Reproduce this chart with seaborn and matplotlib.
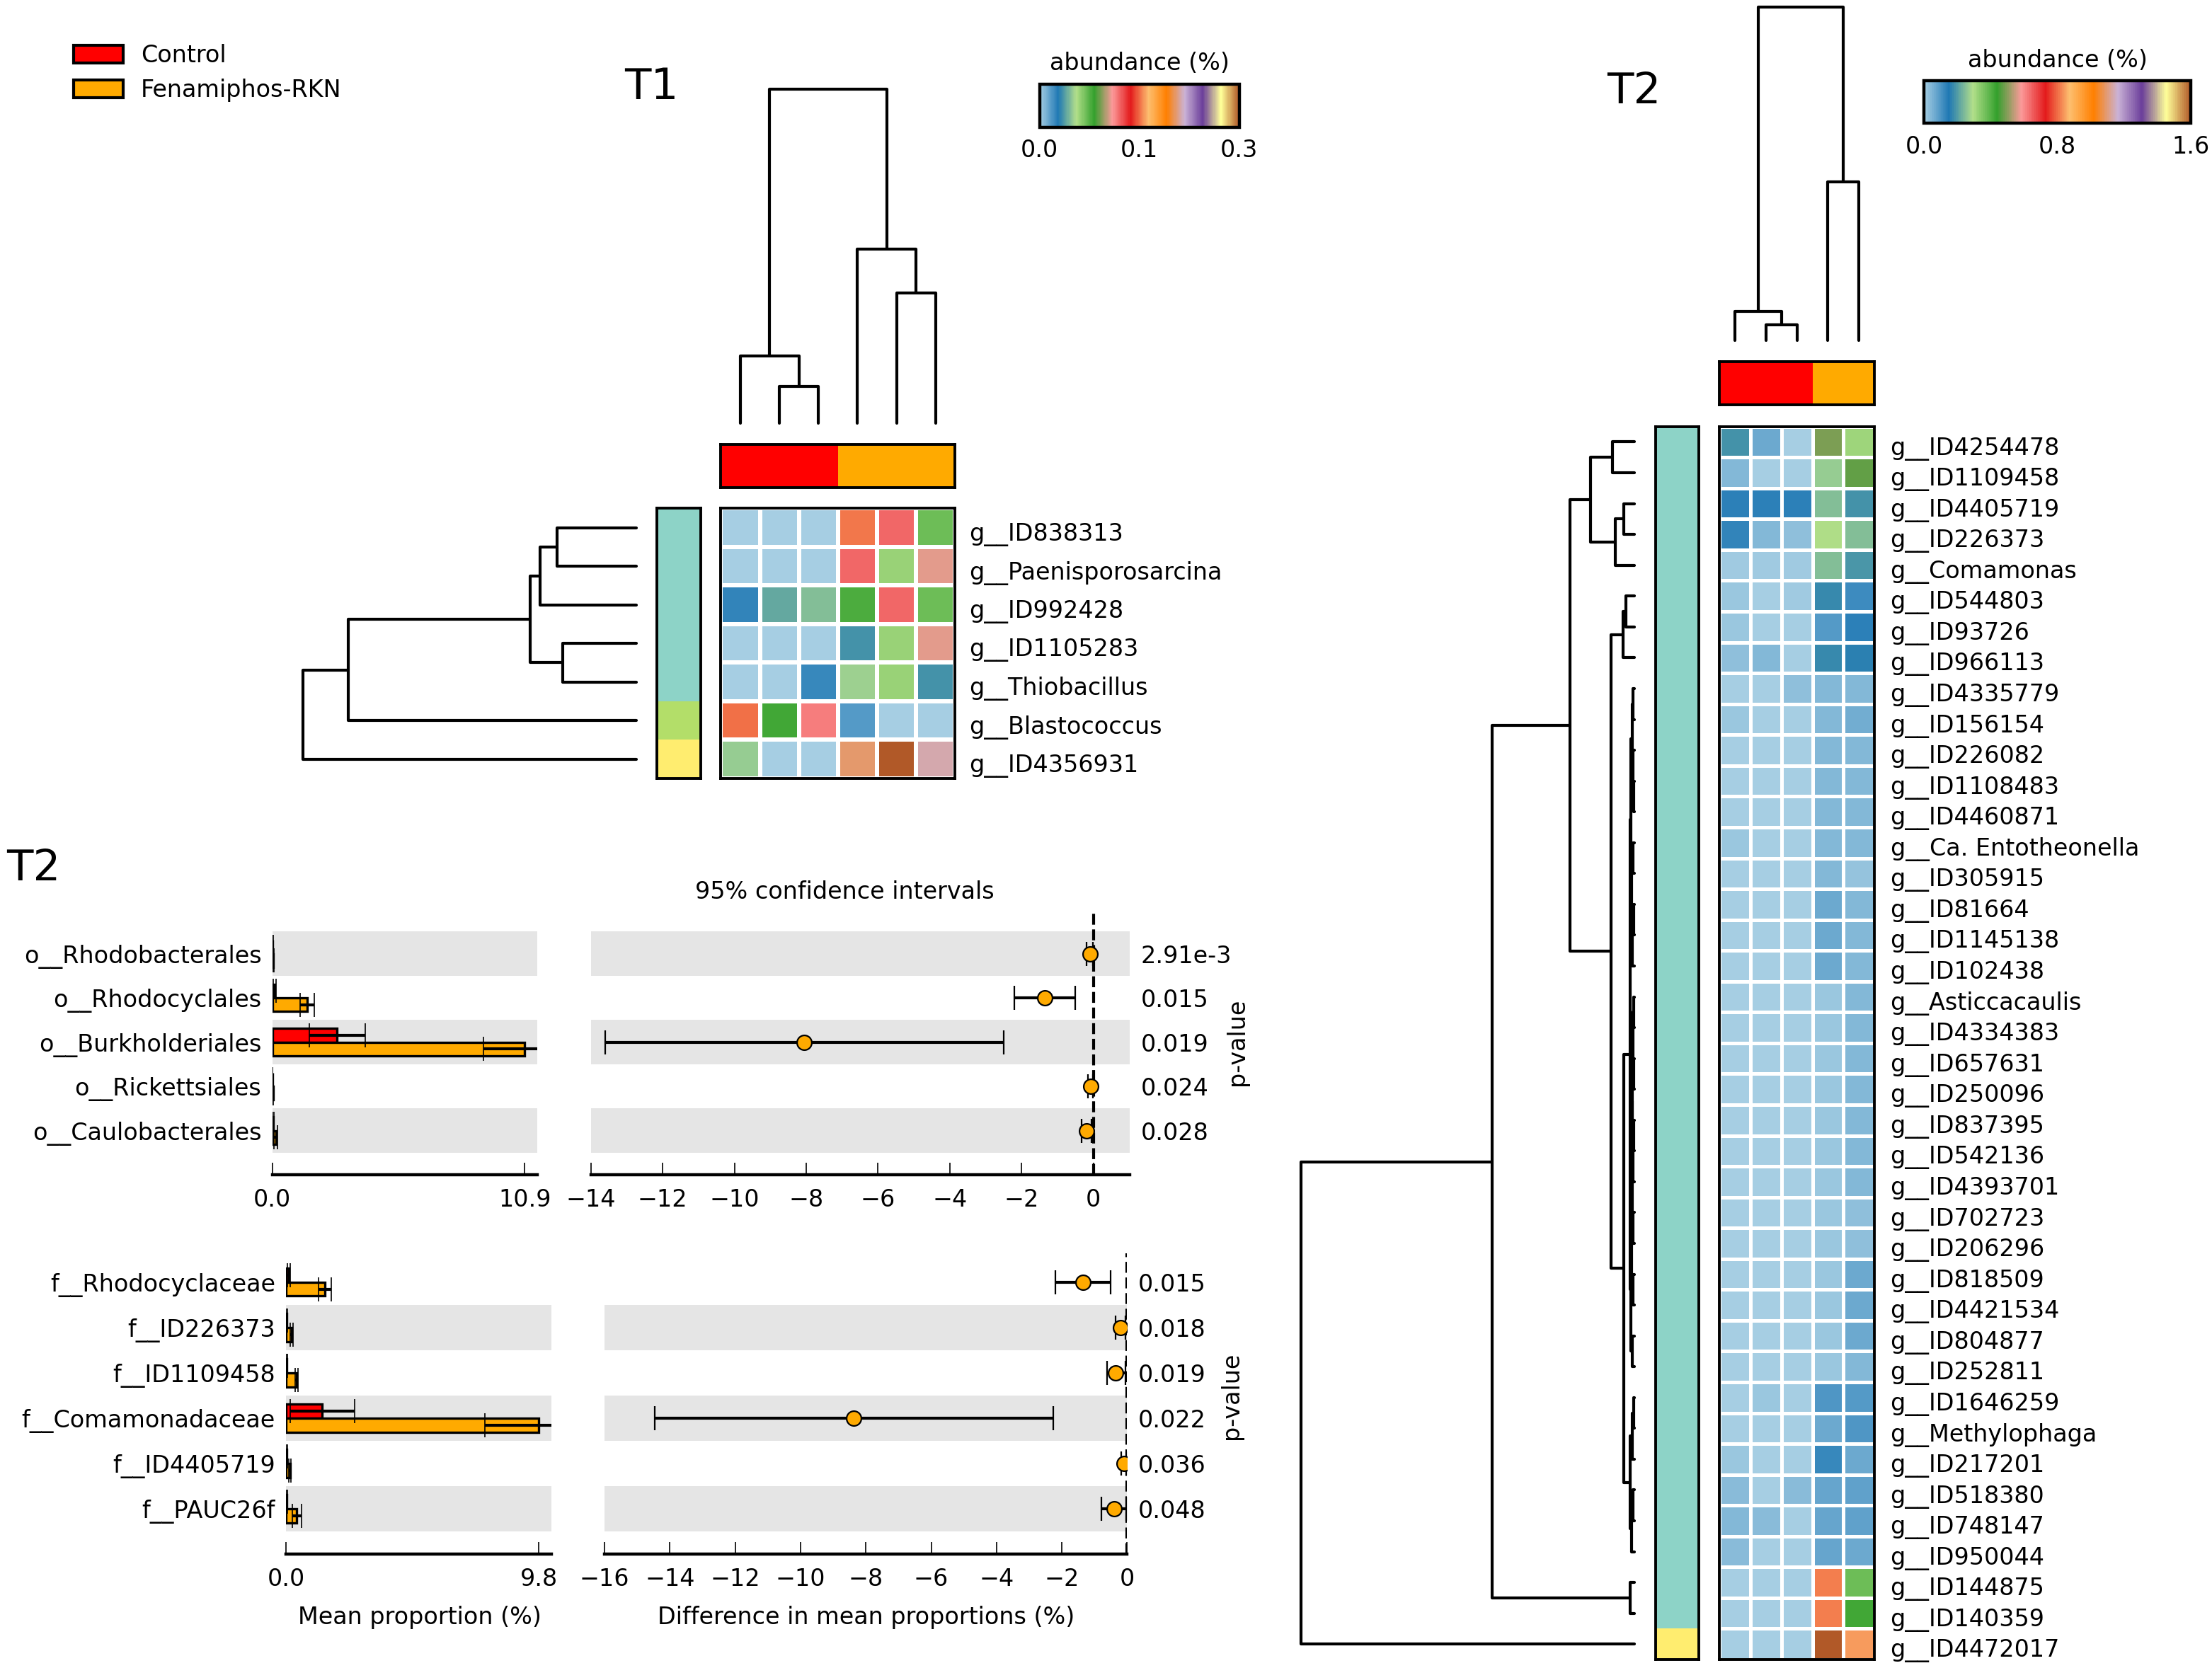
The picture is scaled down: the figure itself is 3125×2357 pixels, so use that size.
import numpy as np
import matplotlib
matplotlib.use("Agg")
import matplotlib.pyplot as plt
import matplotlib.transforms as mtransforms
import seaborn as sns
from matplotlib.colors import LinearSegmentedColormap, ListedColormap, Normalize
from matplotlib.cm import ScalarMappable
from matplotlib.patches import Patch
from matplotlib.ticker import FormatStrFormatter

sns.set_style("white", rc={"axes.edgecolor": "black", "text.color": "black",
                           "xtick.color": "black", "ytick.color": "black",
                           "axes.labelcolor": "black"})
plt.rcParams["font.family"] = ["DejaVu Sans"]
plt.rcParams["font.size"] = 12

# ---------------- data ----------------
group_names = ["Control", "Fenamiphos-RKN"]
group_colors = ["#FF0000", "#FFAA00"]
cluster_colors = ["#8DD3C7", "#B3DE69", "#FFED6F"]

# T1 heatmap (abundance %)
t1_genera = ["g__ID838313", "g__Paenisporosarcina", "g__ID992428", "g__ID1105283",
             "g__Thiobacillus", "g__Blastococcus", "g__ID4356931"]
t1_values = [
    [0.000, 0.000, 0.000, 0.152, 0.120, 0.070],
    [0.000, 0.000, 0.000, 0.120, 0.060, 0.106],
    [0.024, 0.040, 0.046, 0.077, 0.120, 0.070],
    [0.000, 0.000, 0.000, 0.035, 0.060, 0.106],
    [0.000, 0.000, 0.023, 0.051, 0.060, 0.035],
    [0.150, 0.079, 0.116, 0.017, 0.000, 0.000],
    [0.050, 0.000, 0.000, 0.205, 0.300, 0.213],
]
t1_col_groups = [0, 0, 0, 1, 1, 1]
t1_row_clusters = [0, 0, 0, 0, 0, 1, 2]
t1_vmax = 0.3
# trees: [height, left, right], leaves are row / column indices
t1_col_tree = [1.0, [0.20, 0, [0.11, 1, 2]], [0.52, 3, [0.39, 4, 5]]]
t1_row_tree = [1.0, [0.864, [0.318, [0.288, [0.237, 0, 1], 2], [0.22, 3, 4]], 5], 6]

# T2 heatmap
t2_genera = ["g__ID4254478", "g__ID1109458", "g__ID4405719", "g__ID226373", "g__Comamonas",
             "g__ID544803", "g__ID93726", "g__ID966113", "g__ID4335779", "g__ID156154",
             "g__ID226082", "g__ID1108483", "g__ID4460871", "g__Ca. Entotheonella",
             "g__ID305915", "g__ID81664", "g__ID1145138", "g__ID102438", "g__Asticcacaulis",
             "g__ID4334383", "g__ID657631", "g__ID250096", "g__ID837395", "g__ID542136",
             "g__ID4393701", "g__ID702723", "g__ID206296", "g__ID818509", "g__ID4421534",
             "g__ID804877", "g__ID252811", "g__ID1646259", "g__Methylophaga", "g__ID217201",
             "g__ID518380", "g__ID748147", "g__ID950044", "g__ID144875", "g__ID140359",
             "g__ID4472017"]
t2_values = [
    [0.187, 0.065, 0.005, 0.489, 0.318],
    [0.042, 0.005, 0.005, 0.268, 0.470],
    [0.134, 0.134, 0.134, 0.247, 0.187],
    [0.128, 0.042, 0.025, 0.300, 0.247],
    [0.008, 0.008, 0.008, 0.247, 0.192],
    [0.016, 0.006, 0.008, 0.170, 0.113],
    [0.016, 0.005, 0.005, 0.093, 0.134],
    [0.029, 0.042, 0.005, 0.170, 0.160],
    [0.006, 0.006, 0.025, 0.042, 0.042],
    [0.016, 0.006, 0.006, 0.042, 0.058],
    [0.006, 0.006, 0.006, 0.042, 0.042],
    [0.006, 0.006, 0.006, 0.042, 0.042],
    [0.006, 0.006, 0.006, 0.042, 0.042],
    [0.016, 0.006, 0.006, 0.042, 0.042],
    [0.006, 0.006, 0.006, 0.042, 0.020],
    [0.006, 0.006, 0.006, 0.065, 0.042],
    [0.006, 0.006, 0.006, 0.065, 0.042],
    [0.006, 0.006, 0.006, 0.065, 0.042],
    [0.006, 0.006, 0.006, 0.017, 0.042],
    [0.006, 0.006, 0.006, 0.017, 0.042],
    [0.006, 0.006, 0.006, 0.017, 0.042],
    [0.006, 0.006, 0.006, 0.017, 0.042],
    [0.006, 0.006, 0.006, 0.017, 0.042],
    [0.006, 0.006, 0.006, 0.017, 0.042],
    [0.006, 0.006, 0.006, 0.017, 0.042],
    [0.006, 0.006, 0.006, 0.017, 0.029],
    [0.006, 0.006, 0.006, 0.017, 0.029],
    [0.006, 0.006, 0.006, 0.017, 0.065],
    [0.006, 0.006, 0.006, 0.017, 0.065],
    [0.006, 0.006, 0.006, 0.017, 0.065],
    [0.006, 0.006, 0.006, 0.017, 0.042],
    [0.006, 0.017, 0.006, 0.095, 0.093],
    [0.006, 0.006, 0.006, 0.065, 0.095],
    [0.016, 0.006, 0.006, 0.122, 0.065],
    [0.037, 0.006, 0.037, 0.073, 0.078],
    [0.042, 0.037, 0.006, 0.073, 0.078],
    [0.037, 0.006, 0.006, 0.073, 0.065],
    [0.006, 0.006, 0.006, 0.813, 0.374],
    [0.006, 0.006, 0.006, 0.813, 0.422],
    [0.006, 0.006, 0.006, 1.600, 0.843],
]
t2_col_groups = [0, 0, 0, 1, 1]
t2_row_clusters = [0, 0, 0, 0, 0, 0, 0, 0, 0, 0, 0, 0, 0, 0, 0, 0, 0, 0, 0, 0,
                   0, 0, 0, 0, 0, 0, 0, 0, 0, 0, 0, 0, 0, 0, 0, 0, 0, 0, 0, 2]
t2_vmax = 1.6
t2_col_tree = [1.0, [0.088, 0, [0.046, 1, 2]], [0.476, 3, 4]]
t2_sub_a = [0.013,
            [0.010, [0.006, [0.004, 8, 9], [0.004, 10, [0.002, 11, 12]]],
                    [0.008, [0.005, 13, 14], [0.006, [0.003, 15, 16], 17]]],
            [0.011, [0.009, [0.007, [0.006, [0.004, [0.003, 18, 19], [0.002, 20, 21]],
                                             [0.005, [0.003, 22, 23], 24]],
                                     [0.004, 25, 26]],
                             [0.005, 27, 28]],
                     [0.007, 29, 30]]]
t2_sub_b = [0.012, [0.006, [0.003, 31, 32], 33], [0.008, [0.004, 34, 35], 36]]
t2_row_tree = [1.0,
               [0.427,
                [0.194,
                 [0.131, [0.065, 0, 1], [0.057, [0.031, 2, 3], 4]],
                 [0.070, [0.035, [0.025, 5, 6], 7], [0.031, t2_sub_a, t2_sub_b]]],
                [0.012, 37, 38]],
               39]

# STAMP extended error bar, orders
orders = ["o__Rhodobacterales", "o__Rhodocyclales", "o__Burkholderiales",
          "o__Rickettsiales", "o__Caulobacterales"]
ord_ctrl_mean = [0.02, 0.10, 2.80, 0.01, 0.05]
ord_ctrl_sd = [0.01, 0.06, 1.20, 0.01, 0.03]
ord_fen_mean = [0.05, 1.50, 10.90, 0.03, 0.15]
ord_fen_sd = [0.02, 0.30, 1.80, 0.02, 0.08]
ord_diff = [-0.10, -1.35, -8.05, -0.08, -0.20]
ord_ci_low = [-0.20, -2.20, -13.60, -0.15, -0.33]
ord_ci_high = [-0.02, -0.50, -2.50, -0.02, -0.06]
ord_pvalues = ["2.91e-3", "0.015", "0.019", "0.024", "0.028"]

# families
families = ["f__Rhodocyclaceae", "f__ID226373", "f__ID1109458", "f__Comamonadaceae",
            "f__ID4405719", "f__PAUC26f"]
fam_ctrl_mean = [0.10, 0.02, 0.03, 1.40, 0.02, 0.03]
fam_ctrl_sd = [0.06, 0.02, 0.02, 1.25, 0.02, 0.02]
fam_fen_mean = [1.50, 0.22, 0.40, 9.80, 0.15, 0.42]
fam_fen_sd = [0.25, 0.05, 0.06, 2.10, 0.04, 0.18]
fam_diff = [-1.35, -0.20, -0.35, -8.38, -0.10, -0.40]
fam_ci_low = [-2.20, -0.35, -0.62, -14.46, -0.18, -0.78]
fam_ci_high = [-0.50, -0.05, -0.05, -2.26, -0.02, -0.02]
fam_pvalues = ["0.015", "0.018", "0.019", "0.022", "0.036", "0.048"]

# ---------------- figure ----------------
W, H = 1568.0, 1183.0
fig = plt.figure(figsize=(15.625, 11.785), dpi=200)
paired_cmap = LinearSegmentedColormap.from_list("paired_smooth", sns.color_palette("Paired", 12))


def add_box(x0, y0, x1, y1):
    return fig.add_axes([x0 / W, 1 - y1 / H, (x1 - x0) / W, (y1 - y0) / H])


def put_text(x, y, s, size=12, **kw):
    # y is the visual centre of the capitals; shift to the matplotlib text box centre
    y = y + 0.1 * size * (200 / 72) / 1.993
    return fig.text(x / W, 1 - y / H, s, fontsize=size, ha=kw.pop("ha", "center"),
                    va="center", **kw)


def shift_labels(labels, dy_pt):
    off = mtransforms.ScaledTranslation(0, -dy_pt / 72, fig.dpi_scale_trans)
    for lab in labels:
        lab.set_transform(lab.get_transform() + off)


def draw_dendrogram(ax, tree, n, orientation):
    def walk(node):
        if isinstance(node, int):
            return float(node), 0.0
        h, left, right = node
        p1, h1 = walk(left)
        p2, h2 = walk(right)
        if orientation == "top":
            ax.plot([p1, p1, p2, p2], [h1, h, h, h2], color="black", lw=1.5, clip_on=False)
        else:
            ax.plot([h1, h, h, h2], [p1, p1, p2, p2], color="black", lw=1.5, clip_on=False)
        return (p1 + p2) / 2, h
    walk(tree)
    if orientation == "top":
        ax.set_xlim(-0.5, n - 0.5)
        ax.set_ylim(0, tree[0])
    else:
        ax.set_ylim(n - 0.5, -0.5)
        ax.set_xlim(tree[0], 0)
    ax.axis("off")


def boxed(ax, lw):
    for s in ax.spines.values():
        s.set_visible(True)
        s.set_linewidth(lw)
        s.set_color("black")


def draw_heatmap(ax, values, labels, vmax, gap, pad):
    sns.heatmap(np.array(values), ax=ax, cmap=paired_cmap, vmin=0, vmax=vmax,
                linewidths=gap, linecolor="white", cbar=False,
                xticklabels=False, yticklabels=labels)
    ax.yaxis.tick_right()
    ax.tick_params(axis="y", length=0, pad=pad, labelsize=12, labelrotation=0)
    shift_labels(ax.get_yticklabels(), 2.0)
    boxed(ax, 1.4)


def draw_strip(ax, codes, colors):
    sns.heatmap(np.array(codes), ax=ax, cmap=ListedColormap(colors), vmin=-0.5,
                vmax=len(colors) - 0.5, cbar=False, xticklabels=False, yticklabels=False)
    boxed(ax, 1.4)


def draw_colorbar(box, vmax, title, title_y):
    cax = add_box(*box)
    cb = fig.colorbar(ScalarMappable(norm=Normalize(0, vmax), cmap=paired_cmap), cax=cax,
                      orientation="horizontal", ticks=[0, vmax / 2, vmax])
    cb.ax.xaxis.set_major_formatter(FormatStrFormatter("%.1f"))
    cb.outline.set_linewidth(1.6)
    cax.tick_params(direction="in", length=6, width=0.6, pad=6, labelsize=12)
    put_text((box[0] + box[2]) / 2, title_y, title)


# ---- T1 ----
put_text(462, 58.9, "T1", size=22)
ax = add_box(511, 360.5, 677, 552)
draw_heatmap(ax, t1_values, t1_genera, t1_vmax, 2.0, 7)
draw_strip(add_box(511, 315, 677, 346), [t1_col_groups], group_colors)
draw_strip(add_box(465.5, 360.5, 496.6, 552), [[c] for c in t1_row_clusters], cluster_colors)
draw_dendrogram(add_box(511, 63.3, 677, 300), t1_col_tree, len(t1_col_groups), "top")
draw_dendrogram(add_box(215, 360.5, 451, 552), t1_row_tree, len(t1_genera), "left")
draw_colorbar((737, 59.6, 878.5, 90.2), t1_vmax, "abundance (%)", 43.4)

# ---- T2 (heatmap) ----
put_text(1158.3, 62, "T2", size=22)
ax = add_box(1218.7, 302.5, 1328.8, 1177)
draw_heatmap(ax, t2_values, t2_genera, t2_vmax, 1.8, 8)
draw_strip(add_box(1218.7, 256.6, 1328.8, 287.2), [t2_col_groups], group_colors)
draw_strip(add_box(1173.4, 302.5, 1204, 1177), [[c] for c in t2_row_clusters], cluster_colors)
draw_dendrogram(add_box(1218.7, 4.9, 1328.8, 241.5), t2_col_tree, len(t2_col_groups), "top")
draw_dendrogram(add_box(922, 302.5, 1158.6, 1177), t2_row_tree, len(t2_genera), "left")
draw_colorbar((1364, 57, 1553, 87.4), t2_vmax, "abundance (%)", 41.4)

# ---- legend ----
handles = [Patch(facecolor=c, edgecolor="black", lw=1.5, label=g)
           for g, c in zip(group_names, group_colors)]
fig.legend(handles=handles, loc="upper left", bbox_to_anchor=(52 / W, 1 - 31 / H),
           frameon=False, borderpad=0, borderaxespad=0, handlelength=2.1,
           handleheight=0.78, handletextpad=0.75, labelspacing=0.5, fontsize=12)

# ---- T2 extended error bar ----
put_text(23.6, 613, "T2", size=22)


def stamp_panel(bar_box, ci_box, names, cm, cs, fm, fs, diff, lo, hi, pvals, ci_lim,
                pad_top, pad_bot, band_rows):
    n = len(names)
    rows = np.arange(n)
    axb = add_box(*bar_box)
    axc = add_box(*ci_box)
    for a in (axb, axc):
        for i in band_rows:
            a.axhspan(i - 0.5, i + 0.5, color="#E5E5E5", lw=0, zorder=0)
        a.set_ylim(n - 0.5 + pad_bot, -0.5 - pad_top)
        for side in ["left", "right", "top"]:
            a.spines[side].set_visible(False)
        a.spines["bottom"].set_linewidth(1.6)
        a.tick_params(axis="x", direction="in", length=6, width=0.6, pad=7, labelsize=12,
                      bottom=True)
    ekw = dict(ecolor="black", elinewidth=1.5, capsize=6, capthick=0.6)
    axb.barh(rows - 0.155, cm, height=0.31, xerr=cs, color=group_colors[0],
             edgecolor="black", lw=1.2, error_kw=ekw, zorder=2)
    axb.barh(rows + 0.155, fm, height=0.31, xerr=fs, color=group_colors[1],
             edgecolor="black", lw=1.2, error_kw=ekw, zorder=2)
    top = max(max(cm), max(fm))
    axb.set_xlim(0, top * 1.05)
    axb.set_xticks([0, top])
    axb.xaxis.set_major_formatter(FormatStrFormatter("%.1f"))
    axb.set_yticks(rows)
    axb.set_yticklabels(names)
    axb.tick_params(axis="y", length=0, pad=5.5, labelsize=12)

    d = np.array(diff)
    axc.errorbar(d, rows, xerr=[d - np.array(lo), np.array(hi) - d], fmt="o", color="black",
                 mfc=group_colors[1], mec="black", mew=0.8, ms=7.5, elinewidth=1.5,
                 capsize=6, capthick=0.6, zorder=3)
    axc.axvline(0, color="black", ls="--", lw=1.5, zorder=1)
    axc.set_xlim(*ci_lim)
    axc.set_xticks(np.arange(ci_lim[0], 0.5, 2))
    axc.yaxis.tick_right()
    axc.set_yticks(rows)
    axc.set_yticklabels(pvals)
    axc.tick_params(axis="y", length=0, pad=5.5, labelsize=12)
    trans = mtransforms.blended_transform_factory(axc.transAxes, axc.transData)
    axc.text(1.199, (n - 1) / 2, "p-value", rotation=90, transform=trans,
             ha="center", va="center", fontsize=12)
    return axb, axc


stamp_panel((193, 645.5, 381, 833), (418.8, 645.5, 801, 833), orders,
            ord_ctrl_mean, ord_ctrl_sd, ord_fen_mean, ord_fen_sd,
            ord_diff, ord_ci_low, ord_ci_high, ord_pvalues, (-14, 1.02), 0.485, 0.494,
            [0, 2, 4])
stamp_panel((202.8, 889, 391, 1102), (428.6, 889, 799, 1102), families,
            fam_ctrl_mean, fam_ctrl_sd, fam_fen_mean, fam_fen_sd,
            fam_diff, fam_ci_low, fam_ci_high, fam_pvalues, (-16, 0), 0.13, 0.49,
            [1, 3, 5])

put_text(599, 631, "95% confidence intervals")
put_text(297.4, 1145.6, "Mean proportion (%)")
put_text(614, 1145.6, "Difference in mean proportions (%)")

fig.savefig("out.png", dpi=200, facecolor="white")
